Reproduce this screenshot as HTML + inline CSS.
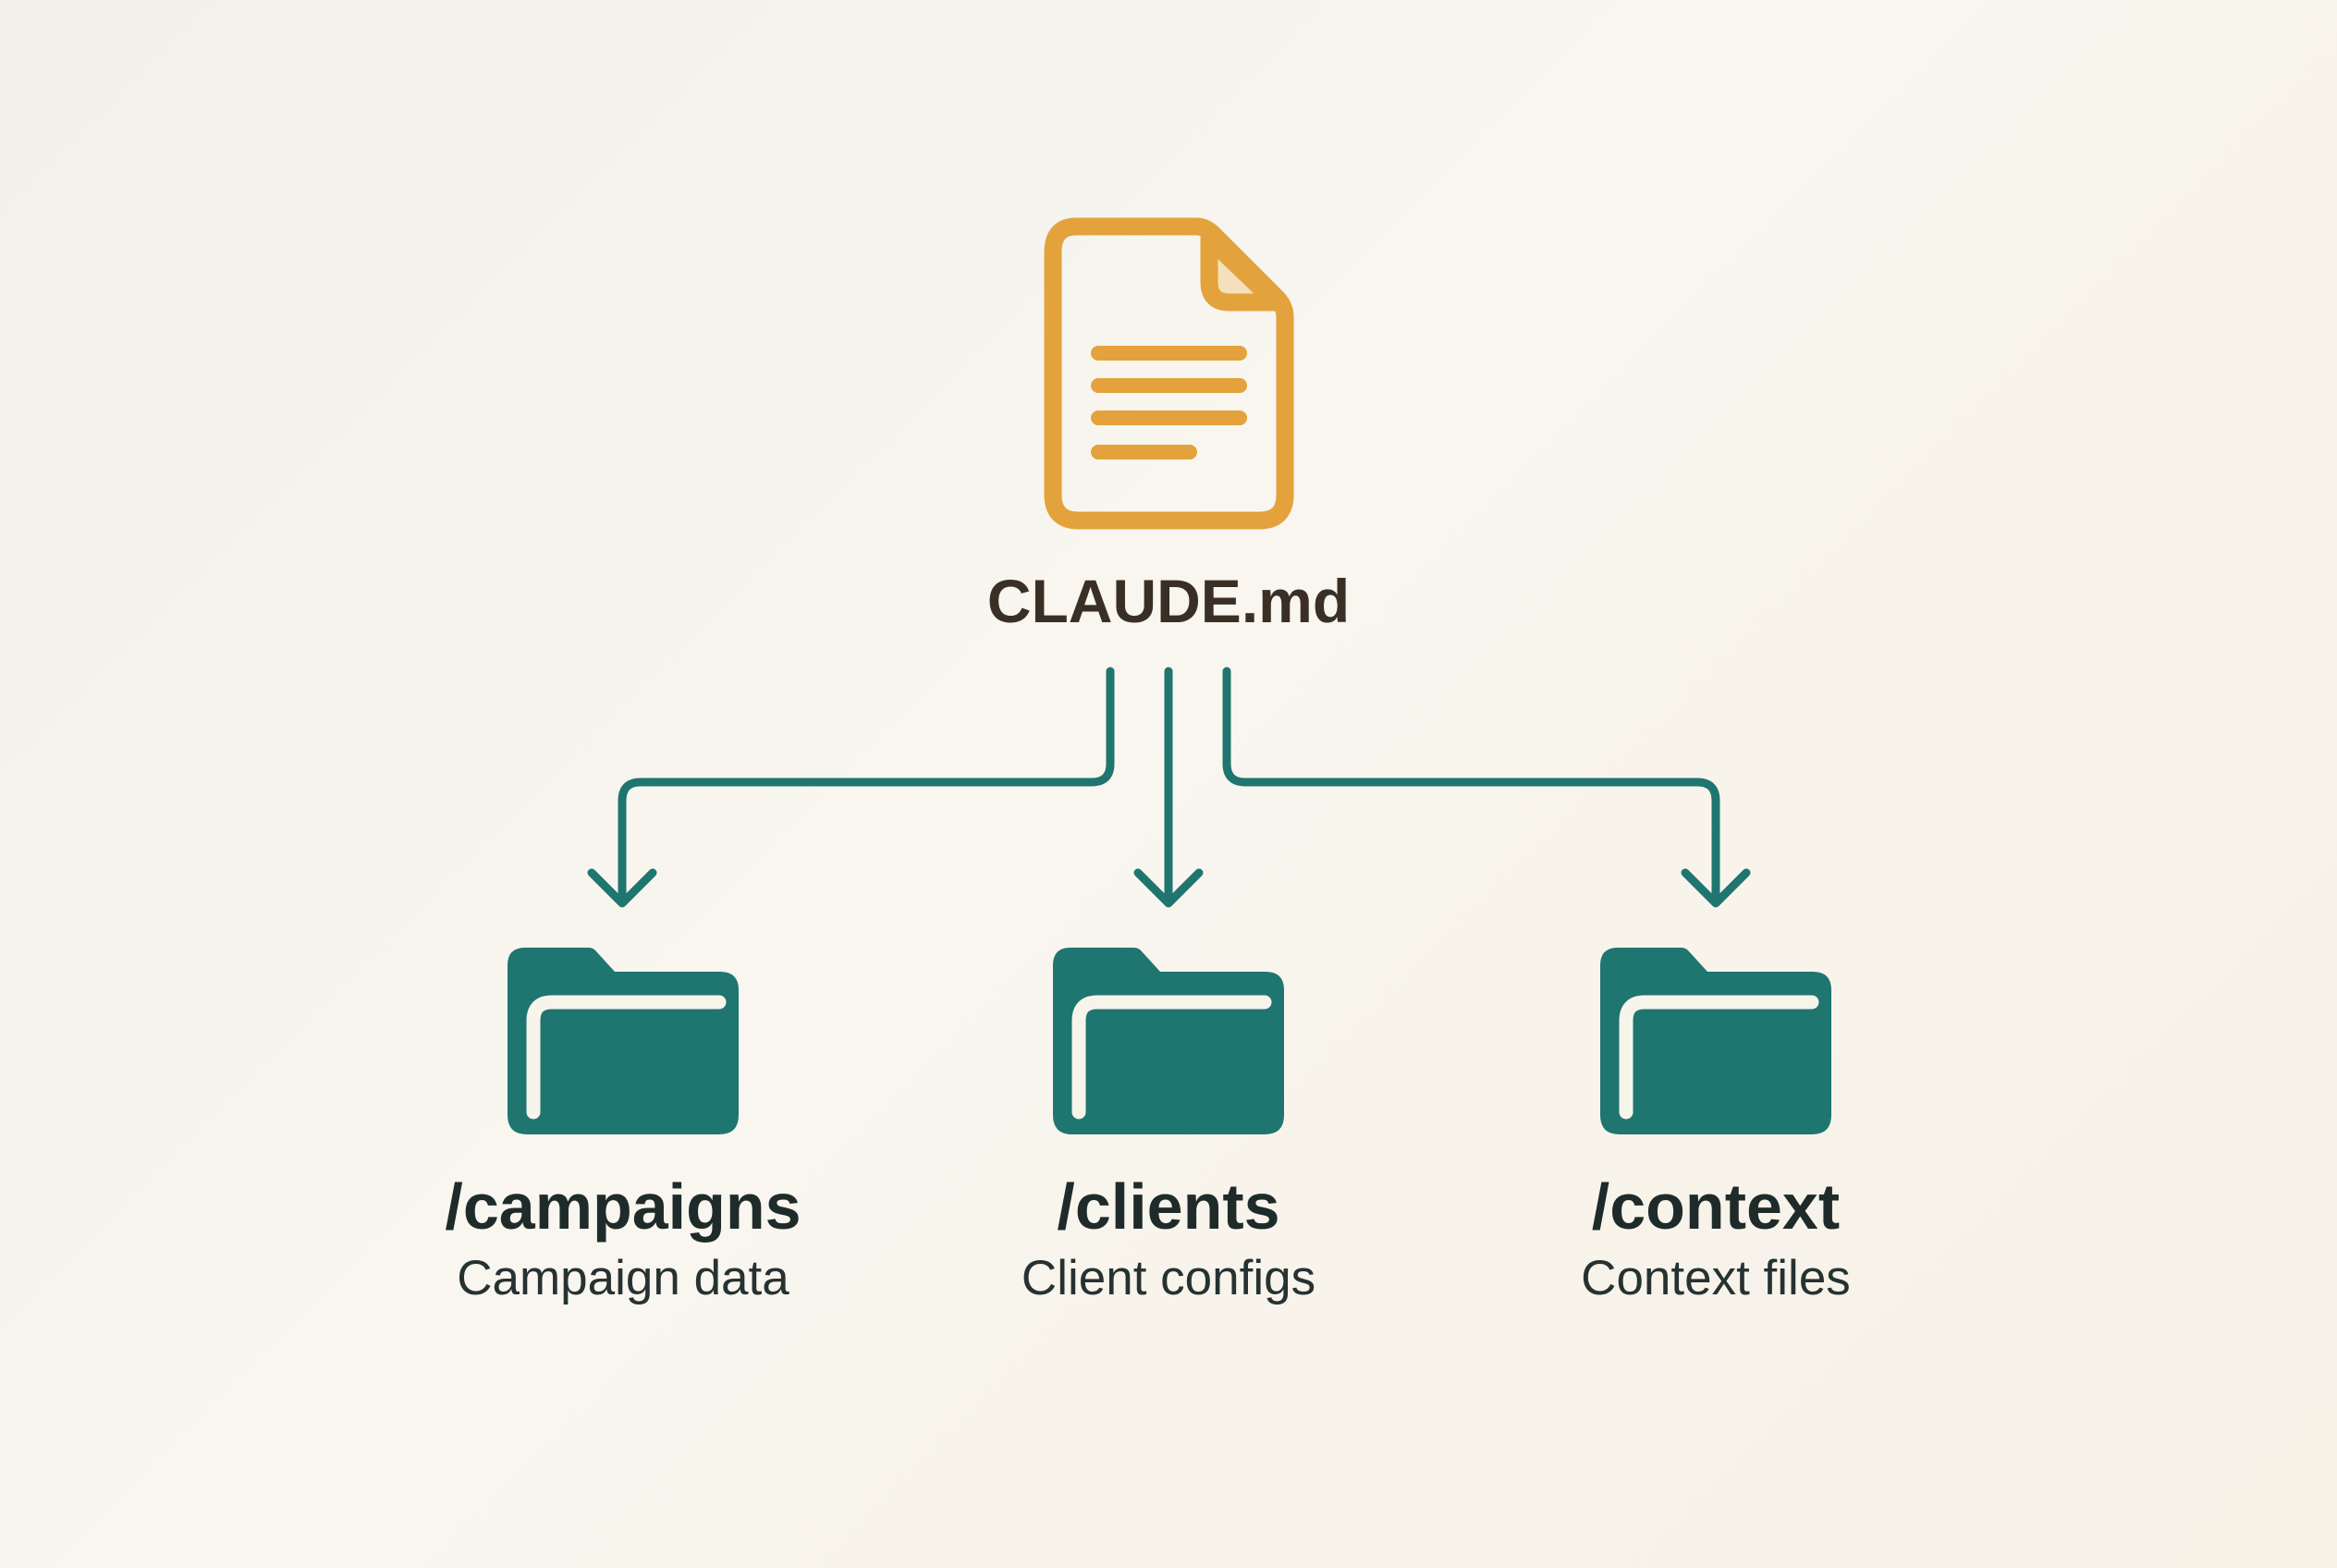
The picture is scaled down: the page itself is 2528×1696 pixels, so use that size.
<!DOCTYPE html>
<html><head><meta charset="utf-8"><style>
html,body{margin:0;padding:0}
body{width:2528px;height:1696px;overflow:hidden;background:linear-gradient(135deg,#f1f0ea 0%,#f8f6ef 45%,#f7f1e6 100%);}
svg{position:absolute;left:0;top:0}
</style></head><body>
<svg width="2528" height="1696" viewBox="0 0 2528 1696">
<defs>
<g id="folder">
<path d="M-125 -185 Q-125 -204 -106 -204 L-37 -204 Q-33 -204 -30 -201 L-9 -178 L105 -178 Q125 -178 125 -158 L125 -23 Q125 -2 104 -2 L-104 -2 Q-125 -2 -125 -23 Z" fill="#1f756f"/>
<path d="M-97 -26 L-97 -125 Q-97 -145 -77 -145 L104 -145" fill="none" stroke="#f7f4ec" stroke-width="15" stroke-linecap="round"/>
</g>
</defs>
<!-- document -->
<path d="M1164 245 L1294 245 Q1304 245 1312 253 L1381 322 Q1390 331 1390 343 L1390 535 Q1390 563 1362 563 L1167 563 Q1139 563 1139 535 L1139 273 Q1139 245 1164 245 Z" fill="none" stroke="#e3a23c" stroke-width="19" stroke-linejoin="round"/>
<path d="M1308 258 L1308 305 Q1308 327 1330 327 L1380 327 Z" fill="#f5e0bd" stroke="#e3a23c" stroke-width="19" stroke-linejoin="round"/>
<g stroke="#e3a23c" stroke-width="16" stroke-linecap="round">
<line x1="1188" y1="382" x2="1341" y2="382"/>
<line x1="1188" y1="417" x2="1341" y2="417"/>
<line x1="1188" y1="452" x2="1341" y2="452"/>
<line x1="1188" y1="489" x2="1287" y2="489"/>
</g>
<text x="1264" y="673" text-anchor="middle" font-family="Liberation Sans, sans-serif" font-weight="bold" font-size="66" fill="#3a2f24">CLAUDE.md</text>
<!-- connectors -->
<g fill="none" stroke="#1f756f" stroke-width="9" stroke-linecap="round" stroke-linejoin="round">
<path d="M1201 726 L1201 826 Q1201 846 1181 846 L693 846 Q673 846 673 866 L673 976"/>
<path d="M640 944 L673 977 L706 944"/>
<path d="M1264 726 L1264 976"/>
<path d="M1231 944 L1264 977 L1297 944"/>
<path d="M1327 726 L1327 826 Q1327 846 1347 846 L1836 846 Q1856 846 1856 866 L1856 976"/>
<path d="M1823 944 L1856 977 L1889 944"/>
</g>
<use href="#folder" transform="translate(674,1229)"/>
<use href="#folder" transform="translate(1264,1229)"/>
<use href="#folder" transform="translate(1856,1229)"/>
<g font-family="Liberation Sans, sans-serif" text-anchor="middle">
<text x="674" y="1329" font-weight="bold" font-size="70" fill="#1f2b2b">/campaigns</text>
<text x="1264" y="1329" font-weight="bold" font-size="70" fill="#1f2b2b">/clients</text>
<text x="1856" y="1329" font-weight="bold" font-size="70" fill="#1f2b2b">/context</text>
<text x="674" y="1400" font-size="53" fill="#263232">Campaign data</text>
<text x="1264" y="1400" font-size="53" fill="#263232">Client configs</text>
<text x="1856" y="1400" font-size="53" fill="#263232">Context files</text>
</g>
</svg>
</body></html>
